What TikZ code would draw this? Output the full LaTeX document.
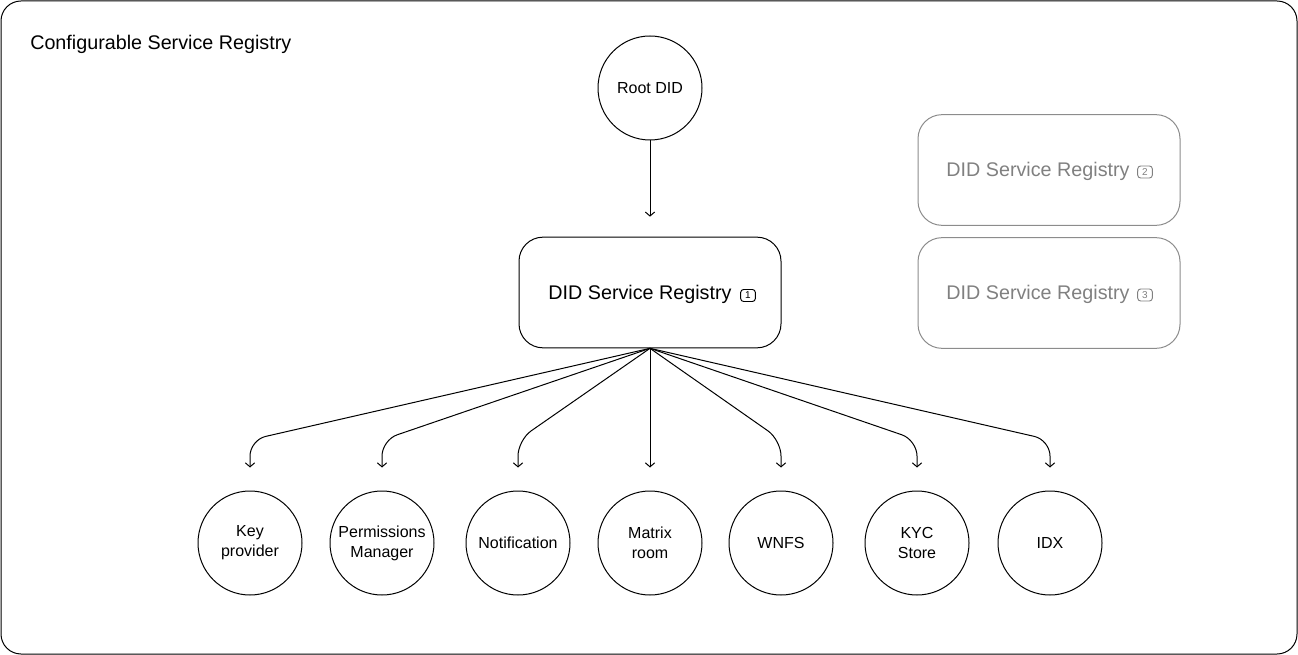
\documentclass[tikz,border=0pt]{standalone}
\usepackage{fontspec}
\setmainfont{Liberation Sans}
\usetikzlibrary{arrows.meta}
\definecolor{dimgr}{RGB}{128,128,128}
\definecolor{dimbd}{RGB}{140,140,140}
\begin{document}
\begin{tikzpicture}[x=0.75pt,y=-0.75pt,
  every node/.style={font=\fontsize{12pt}{15pt}\selectfont, inner sep=0pt},
  circ/.style={circle, draw, line width=0.75pt, minimum size=78pt, align=center},
  regbox/.style={rectangle, draw, line width=0.75pt, rounded corners=18pt, minimum width=196.5pt, minimum height=83pt},
  dimbox/.style={regbox, draw=dimbd},
  bigtxt/.style={font=\fontsize{14.8pt}{18pt}\selectfont},
  numbox/.style={rectangle, draw, line width=0.7pt, rounded corners=2.2pt, minimum width=11pt, minimum height=9pt, font=\fontsize{7.5pt}{8pt}\selectfont},
  conn/.style={line width=0.75pt, -{Straight Barb[length=3pt,width=7pt]}},
  fan/.style={conn, rounded corners=12pt, shorten >=17.25pt}
]
\useasboundingbox (0,0) rectangle (1298,655);
\draw[line width=0.75pt, rounded corners=15pt] (1,1) rectangle (1297,654);
\node[bigtxt, anchor=west] (title) at (30,44.5) {Configurable Service Registry};

\node[circ] (root) at (650,88) {Root DID};

\node[regbox] (main) at (650,292.5) {};
\node[bigtxt] (maintxt) at (640,294.5) {DID Service Registry};
\node[numbox] (n1) at (748,295.5) {1};

\node[dimbox] (reg2) at (1049,170) {};
\node[bigtxt, text=dimgr] (reg2txt) at (1038,171.5) {DID Service Registry};
\node[numbox, draw=dimgr, text=dimgr] (n2) at (1145,172) {2};

\node[dimbox] (reg3) at (1049,293) {};
\node[bigtxt, text=dimgr] (reg3txt) at (1038,294.5) {DID Service Registry};
\node[numbox, draw=dimgr, text=dimgr] (n3) at (1145,295) {3};

\node[circ] (key) at (250,543) {Key\\provider};
\node[circ] (perm) at (382,543) {Permissions\\Manager};
\node[circ] (notif) at (518,543) {Notification};
\node[circ] (matrix) at (650,543) {Matrix\\room};
\node[circ] (wnfs) at (781,543) {WNFS};
\node[circ] (kyc) at (917,543) {KYC\\Store};
\node[circ] (idx) at (1050,543) {IDX};

\coordinate (knee) at (0,440);

\draw[conn, shorten >=15pt] (root) -- (main);

\foreach \t in {key,perm,notif,wnfs,kyc,idx}{
  \draw[fan] (main.south) -- (\t.north |- knee) -- (\t.north);
}
\draw[conn, shorten >=17.25pt] (main.south) -- (matrix.north);
\end{tikzpicture}
\end{document}
